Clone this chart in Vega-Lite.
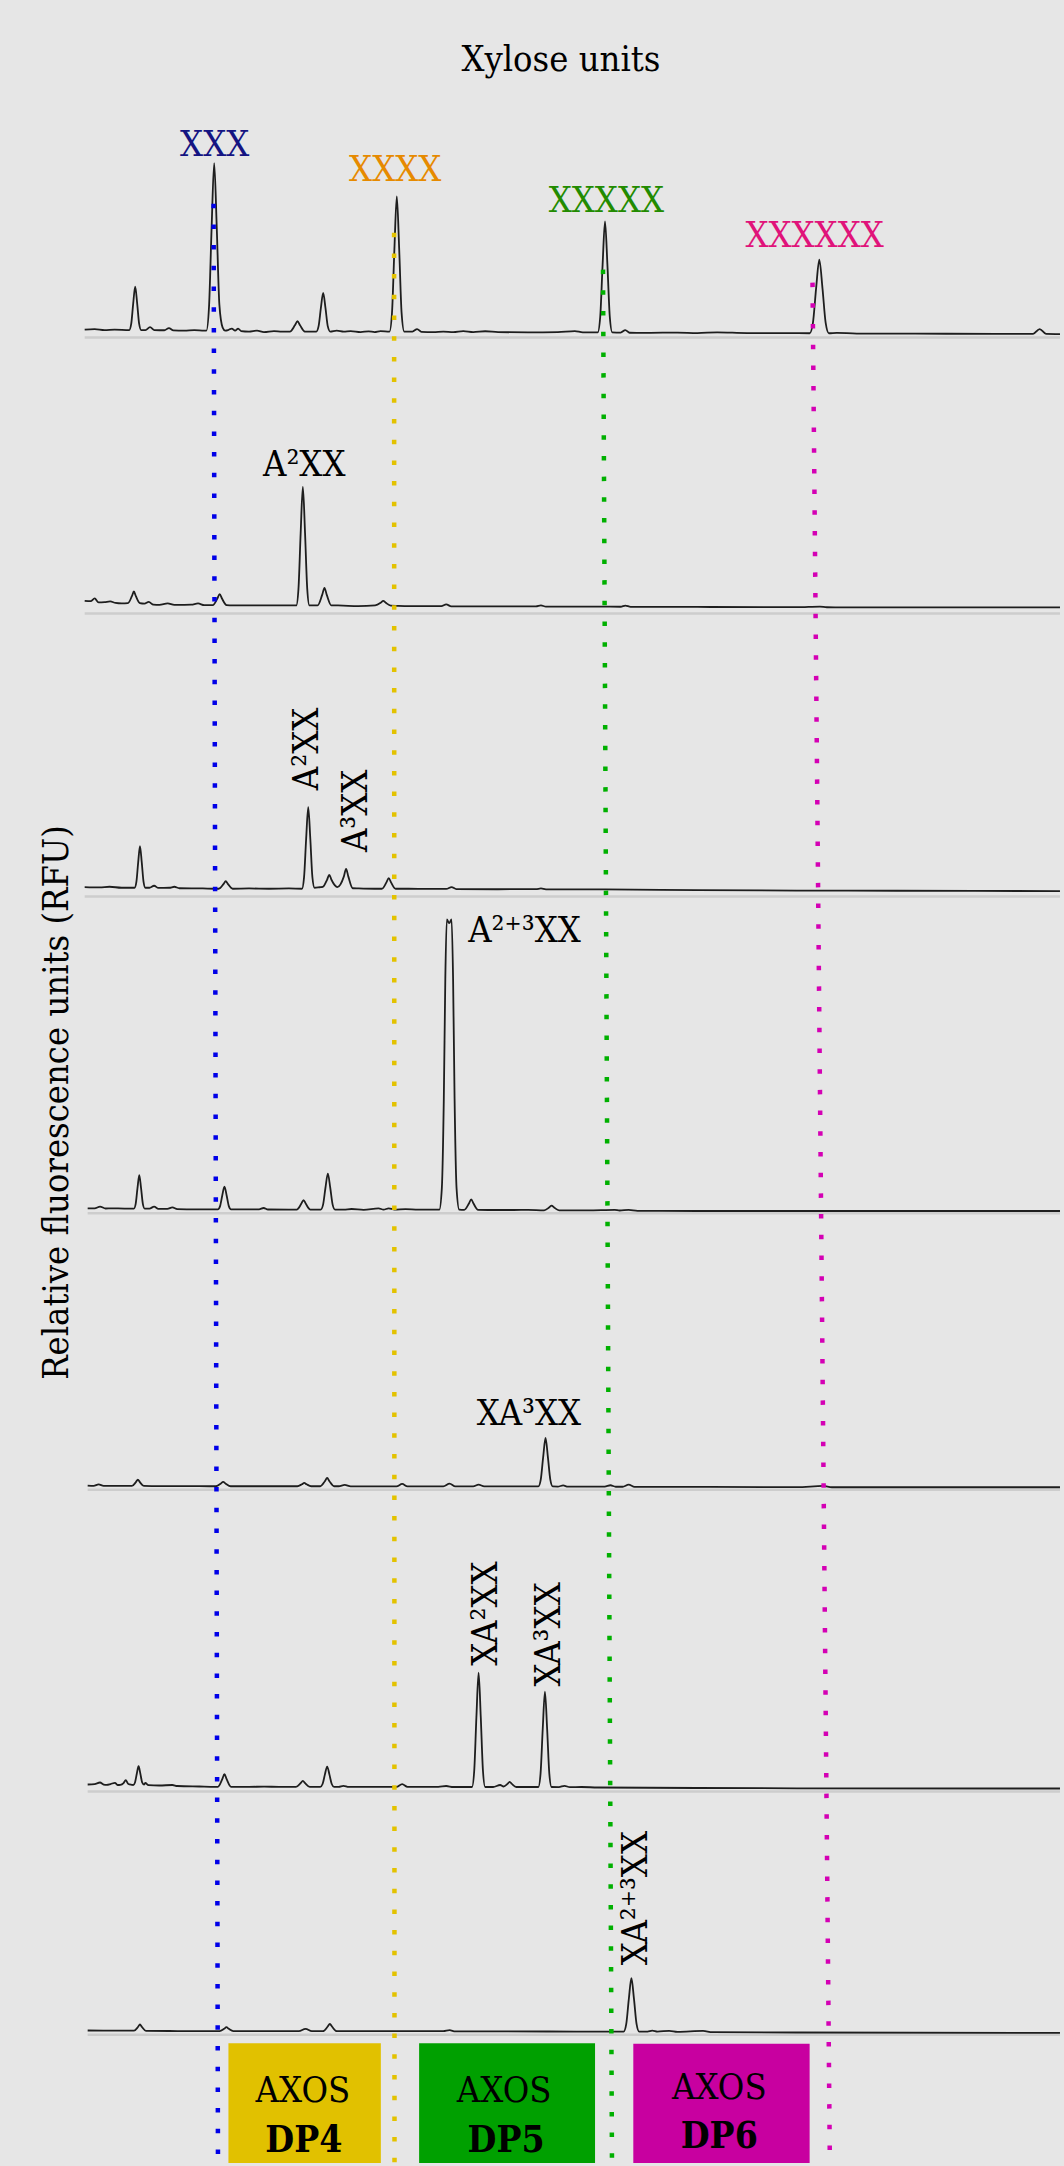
{
"$schema": "https://vega.github.io/schema/vega-lite/v6.json",
"width": 1064, "height": 2166, "padding": 0,
"autosize": {"type": "fit", "contains": "padding"},
"background": "#e6e6e6",
"config": {"view": {"stroke": null}},
"datasets": {
"baselines": [
{"trace":"P1","scan":85,"scan_end":1064,"rfu":1828},
{"trace":"P2","scan":85,"scan_end":1064,"rfu":1551.7},
{"trace":"P3","scan":85,"scan_end":1064,"rfu":1268.3},
{"trace":"P4","scan":88,"scan_end":1064,"rfu":951},
{"trace":"P5","scan":88,"scan_end":1064,"rfu":674.3},
{"trace":"P6","scan":88,"scan_end":1064,"rfu":372},
{"trace":"P7","scan":88,"scan_end":1064,"rfu":128.3}
],
"guides": [
{"dp":"DP3","scan":214.4,"scan_end":218.8,"rfu":1962,"rfu_end":0,"c":"#0000e8"},
{"dp":"DP4","scan":395.6,"scan_end":396,"rfu":1933,"rfu_end":0,"c":"#e3c200"},
{"dp":"DP5","scan":605.3,"scan_end":614.3,"rfu":1896,"rfu_end":0,"c":"#00b000"},
{"dp":"DP6","scan":815.6,"scan_end":833,"rfu":1883,"rfu_end":0,"c":"#d400b4"}
],
"boxes": [
{"dp":"DP4","scan":229.3,"scan_end":382.3,"rfu":120,"rfu_end":0,"c":"#e1c100"},
{"dp":"DP5","scan":420.7,"scan_end":597.3,"rfu":120,"rfu_end":0,"c":"#00a000"},
{"dp":"DP6","scan":635.7,"scan_end":812.7,"rfu":119.3,"rfu_end":0,"c":"#c800a0"}
],
"labels": [
{"g":"center","t":"Xylose units","scan":563,"rfu":2095.3,"c":"#000000"},
{"g":"center","t":"XXX","scan":215.5,"rfu":2009.3,"c":"#141482"},
{"g":"center","t":"XXXX","scan":396.7,"rfu":1984.3,"c":"#e68a00"},
{"g":"center","t":"XXXXX","scan":608.7,"rfu":1953.3,"c":"#228b00"},
{"g":"center","t":"XXXXXX","scan":817.7,"rfu":1918.7,"c":"#e0137a"},
{"g":"center","t":"A²XX","scan":305.4,"rfu":1689,"c":"#000000"},
{"g":"center","t":"XA³XX","scan":531,"rfu":739.3,"c":"#000000"},
{"g":"center","t":"AXOS","scan":304,"rfu":61,"c":"#000000"},
{"g":"center","t":"AXOS","scan":506,"rfu":61,"c":"#000000"},
{"g":"center","t":"AXOS","scan":722,"rfu":64.3,"c":"#000000"},
{"g":"left","t":"A²⁺³XX","scan":470,"rfu":1222.7,"c":"#000000"},
{"g":"bold","t":"DP4","scan":305,"rfu":11,"c":"#000000"},
{"g":"bold","t":"DP5","scan":508,"rfu":11,"c":"#000000"},
{"g":"bold","t":"DP6","scan":722,"rfu":15.3,"c":"#000000"},
{"g":"rot","t":"A²XX","scan":319,"rfu":1416,"c":"#000000"},
{"g":"rot","t":"A³XX","scan":368.5,"rfu":1354,"c":"#000000"},
{"g":"rot","t":"XA²XX","scan":498.7,"rfu":550.2,"c":"#000000"},
{"g":"rot","t":"XA³XX","scan":562,"rfu":529.3,"c":"#000000"},
{"g":"rot","t":"XA²⁺³XX","scan":649.4,"rfu":265.2,"c":"#000000"},
{"g":"rot","t":"Relative fluorescence units (RFU)","scan":68,"rfu":1062,"c":"#000000"}
],
"traces": [
{"trace":"P1","scan":85,"rfu":1836},{"trace":"P1","scan":95,"rfu":1836.5},{"trace":"P1","scan":105,"rfu":1835.5},{"trace":"P1","scan":115,"rfu":1836},{"trace":"P1","scan":129.7,"rfu":1835.5},{"trace":"P1","scan":131.7,"rfu":1841.6},{"trace":"P1","scan":133.7,"rfu":1862},{"trace":"P1","scan":135.7,"rfu":1879},{"trace":"P1","scan":137.7,"rfu":1862},{"trace":"P1","scan":139.7,"rfu":1841.6},{"trace":"P1","scan":141.7,"rfu":1835.5},{"trace":"P1","scan":146,"rfu":1835.5},{"trace":"P1","scan":150.6,"rfu":1838.5},{"trace":"P1","scan":155,"rfu":1835.5},{"trace":"P1","scan":165,"rfu":1835.3},{"trace":"P1","scan":169.6,"rfu":1837.5},{"trace":"P1","scan":174,"rfu":1835.2},{"trace":"P1","scan":185,"rfu":1835},{"trace":"P1","scan":195,"rfu":1835.4},{"trace":"P1","scan":205,"rfu":1835},{"trace":"P1","scan":207.2,"rfu":1835},{"trace":"P1","scan":209.8,"rfu":1858.5},{"trace":"P1","scan":212.4,"rfu":1937.3},{"trace":"P1","scan":215,"rfu":2002.7},{"trace":"P1","scan":217.6,"rfu":1937.3},{"trace":"P1","scan":220.2,"rfu":1861},{"trace":"P1","scan":223.5,"rfu":1838},{"trace":"P1","scan":226,"rfu":1835},{"trace":"P1","scan":229,"rfu":1835.5},{"trace":"P1","scan":232.7,"rfu":1837},{"trace":"P1","scan":236,"rfu":1835},{"trace":"P1","scan":239,"rfu":1837},{"trace":"P1","scan":242,"rfu":1834.5},{"trace":"P1","scan":250,"rfu":1834},{"trace":"P1","scan":258,"rfu":1835},{"trace":"P1","scan":265,"rfu":1833.5},{"trace":"P1","scan":275,"rfu":1834.5},{"trace":"P1","scan":283,"rfu":1834},{"trace":"P1","scan":291,"rfu":1834},{"trace":"P1","scan":296,"rfu":1840.2},{"trace":"P1","scan":298.6,"rfu":1844.3},{"trace":"P1","scan":301.2,"rfu":1840.2},{"trace":"P1","scan":306,"rfu":1834},{"trace":"P1","scan":317.5,"rfu":1834},{"trace":"P1","scan":319.8,"rfu":1839.4},{"trace":"P1","scan":322.1,"rfu":1857.6},{"trace":"P1","scan":324.4,"rfu":1872.7},{"trace":"P1","scan":326.7,"rfu":1857.6},{"trace":"P1","scan":329,"rfu":1839.4},{"trace":"P1","scan":331.5,"rfu":1834},{"trace":"P1","scan":338,"rfu":1835},{"trace":"P1","scan":345,"rfu":1834},{"trace":"P1","scan":352,"rfu":1834.5},{"trace":"P1","scan":362,"rfu":1833.5},{"trace":"P1","scan":370,"rfu":1834.2},{"trace":"P1","scan":376,"rfu":1833.5},{"trace":"P1","scan":382,"rfu":1834.5},{"trace":"P1","scan":391,"rfu":1834},{"trace":"P1","scan":393.5,"rfu":1853},{"trace":"P1","scan":395.9,"rfu":1916.5},{"trace":"P1","scan":398.3,"rfu":1969.3},{"trace":"P1","scan":400.7,"rfu":1916.5},{"trace":"P1","scan":403.1,"rfu":1853},{"trace":"P1","scan":405.8,"rfu":1834},{"trace":"P1","scan":414,"rfu":1834},{"trace":"P1","scan":418.7,"rfu":1836.5},{"trace":"P1","scan":423,"rfu":1833.7},{"trace":"P1","scan":435,"rfu":1833.5},{"trace":"P1","scan":445,"rfu":1834},{"trace":"P1","scan":455,"rfu":1833.5},{"trace":"P1","scan":465,"rfu":1834.5},{"trace":"P1","scan":475,"rfu":1833.5},{"trace":"P1","scan":487,"rfu":1834.3},{"trace":"P1","scan":500,"rfu":1833.5},{"trace":"P1","scan":530,"rfu":1833.2},{"trace":"P1","scan":560,"rfu":1833.5},{"trace":"P1","scan":577,"rfu":1834.5},{"trace":"P1","scan":585,"rfu":1833.2},{"trace":"P1","scan":600,"rfu":1833.2},{"trace":"P1","scan":602.5,"rfu":1848.8},{"trace":"P1","scan":604.9,"rfu":1901},{"trace":"P1","scan":607.3,"rfu":1944.3},{"trace":"P1","scan":609.7,"rfu":1901},{"trace":"P1","scan":612.1,"rfu":1848.8},{"trace":"P1","scan":614.6,"rfu":1833.2},{"trace":"P1","scan":623,"rfu":1833},{"trace":"P1","scan":627.7,"rfu":1835.5},{"trace":"P1","scan":632,"rfu":1832.8},{"trace":"P1","scan":650,"rfu":1832.7},{"trace":"P1","scan":680,"rfu":1833},{"trace":"P1","scan":700,"rfu":1832.5},{"trace":"P1","scan":720,"rfu":1833.2},{"trace":"P1","scan":750,"rfu":1832.5},{"trace":"P1","scan":790,"rfu":1832.5},{"trace":"P1","scan":812.8,"rfu":1832.3},{"trace":"P1","scan":816,"rfu":1842.6},{"trace":"P1","scan":819.2,"rfu":1877.3},{"trace":"P1","scan":822.4,"rfu":1906},{"trace":"P1","scan":825.6,"rfu":1877.3},{"trace":"P1","scan":828.8,"rfu":1842.6},{"trace":"P1","scan":832,"rfu":1832.3},{"trace":"P1","scan":840,"rfu":1832.7},{"trace":"P1","scan":860,"rfu":1832},{"trace":"P1","scan":900,"rfu":1832},{"trace":"P1","scan":950,"rfu":1831.8},{"trace":"P1","scan":1000,"rfu":1831.7},{"trace":"P1","scan":1037,"rfu":1831.7},{"trace":"P1","scan":1043.6,"rfu":1836.5},{"trace":"P1","scan":1050,"rfu":1831.7},{"trace":"P1","scan":1064,"rfu":1831.5},

{"trace":"P2","scan":85,"rfu":1564.3},{"trace":"P2","scan":91,"rfu":1564},{"trace":"P2","scan":95,"rfu":1566.7},{"trace":"P2","scan":99,"rfu":1562.7},{"trace":"P2","scan":105,"rfu":1563},{"trace":"P2","scan":110.6,"rfu":1563.7},{"trace":"P2","scan":116,"rfu":1562.2},{"trace":"P2","scan":122,"rfu":1561.7},{"trace":"P2","scan":128.4,"rfu":1562},{"trace":"P2","scan":132.4,"rfu":1569},{"trace":"P2","scan":134.4,"rfu":1573.7},{"trace":"P2","scan":136.4,"rfu":1569},{"trace":"P2","scan":140.4,"rfu":1562},{"trace":"P2","scan":145,"rfu":1561.5},{"trace":"P2","scan":149.3,"rfu":1563.2},{"trace":"P2","scan":154,"rfu":1560.5},{"trace":"P2","scan":160,"rfu":1560.3},{"trace":"P2","scan":168.3,"rfu":1561.7},{"trace":"P2","scan":175,"rfu":1560.2},{"trace":"P2","scan":183,"rfu":1560.3},{"trace":"P2","scan":192,"rfu":1560.5},{"trace":"P2","scan":198.8,"rfu":1561.7},{"trace":"P2","scan":205,"rfu":1560},{"trace":"P2","scan":213.6,"rfu":1560},{"trace":"P2","scan":218.2,"rfu":1566.6},{"trace":"P2","scan":220.5,"rfu":1571},{"trace":"P2","scan":222.8,"rfu":1566.6},{"trace":"P2","scan":227.4,"rfu":1560},{"trace":"P2","scan":234,"rfu":1559.7},{"trace":"P2","scan":250,"rfu":1559.8},{"trace":"P2","scan":271,"rfu":1559.7},{"trace":"P2","scan":290,"rfu":1559.7},{"trace":"P2","scan":297.4,"rfu":1559.7},{"trace":"P2","scan":299.6,"rfu":1576.3},{"trace":"P2","scan":301.8,"rfu":1632.1},{"trace":"P2","scan":304,"rfu":1678.3},{"trace":"P2","scan":306.2,"rfu":1632.1},{"trace":"P2","scan":308.4,"rfu":1576.3},{"trace":"P2","scan":310.6,"rfu":1559.7},{"trace":"P2","scan":318.8,"rfu":1559.7},{"trace":"P2","scan":323.4,"rfu":1570.3},{"trace":"P2","scan":325.7,"rfu":1577.3},{"trace":"P2","scan":328,"rfu":1570.3},{"trace":"P2","scan":332.6,"rfu":1559.7},{"trace":"P2","scan":339.3,"rfu":1559.7},{"trace":"P2","scan":359.6,"rfu":1559},{"trace":"P2","scan":376.6,"rfu":1559.7},{"trace":"P2","scan":382.2,"rfu":1562.4},{"trace":"P2","scan":384.7,"rfu":1564.3},{"trace":"P2","scan":387.2,"rfu":1562.4},{"trace":"P2","scan":392.2,"rfu":1559.5},{"trace":"P2","scan":400,"rfu":1559.3},{"trace":"P2","scan":420,"rfu":1559},{"trace":"P2","scan":443,"rfu":1559},{"trace":"P2","scan":447.9,"rfu":1560.7},{"trace":"P2","scan":453,"rfu":1558.8},{"trace":"P2","scan":500,"rfu":1558.7},{"trace":"P2","scan":538,"rfu":1558.7},{"trace":"P2","scan":543,"rfu":1559.7},{"trace":"P2","scan":548,"rfu":1558.6},{"trace":"P2","scan":600,"rfu":1558.5},{"trace":"P2","scan":623,"rfu":1558.4},{"trace":"P2","scan":627.7,"rfu":1559.6},{"trace":"P2","scan":633,"rfu":1558.3},{"trace":"P2","scan":700,"rfu":1558.2},{"trace":"P2","scan":800,"rfu":1558},{"trace":"P2","scan":823,"rfu":1558.6},{"trace":"P2","scan":830,"rfu":1557.9},{"trace":"P2","scan":900,"rfu":1557.8},{"trace":"P2","scan":1000,"rfu":1557.7},{"trace":"P2","scan":1064,"rfu":1557.7},

{"trace":"P3","scan":85,"rfu":1277.7},{"trace":"P3","scan":100,"rfu":1277.3},{"trace":"P3","scan":110,"rfu":1278},{"trace":"P3","scan":122,"rfu":1277},{"trace":"P3","scan":135.1,"rfu":1277},{"trace":"P3","scan":136.9,"rfu":1282.8},{"trace":"P3","scan":138.7,"rfu":1302.4},{"trace":"P3","scan":140.5,"rfu":1318.7},{"trace":"P3","scan":142.3,"rfu":1302.4},{"trace":"P3","scan":144.1,"rfu":1282.8},{"trace":"P3","scan":145.9,"rfu":1277},{"trace":"P3","scan":150,"rfu":1277},{"trace":"P3","scan":154.7,"rfu":1279},{"trace":"P3","scan":159,"rfu":1276.8},{"trace":"P3","scan":170,"rfu":1277},{"trace":"P3","scan":175,"rfu":1278},{"trace":"P3","scan":180,"rfu":1276.5},{"trace":"P3","scan":203.6,"rfu":1276.3},{"trace":"P3","scan":215,"rfu":1276},{"trace":"P3","scan":219.7,"rfu":1276},{"trace":"P3","scan":224.3,"rfu":1280.6},{"trace":"P3","scan":226.6,"rfu":1283.7},{"trace":"P3","scan":228.9,"rfu":1280.6},{"trace":"P3","scan":233.5,"rfu":1276},{"trace":"P3","scan":250,"rfu":1276.3},{"trace":"P3","scan":270,"rfu":1276},{"trace":"P3","scan":290,"rfu":1276.3},{"trace":"P3","scan":303.1,"rfu":1276},{"trace":"P3","scan":305.2,"rfu":1287.4},{"trace":"P3","scan":307.3,"rfu":1325.8},{"trace":"P3","scan":309.4,"rfu":1357.7},{"trace":"P3","scan":311.5,"rfu":1325.8},{"trace":"P3","scan":313.6,"rfu":1287.4},{"trace":"P3","scan":315.7,"rfu":1277},{"trace":"P3","scan":321,"rfu":1277.5},{"trace":"P3","scan":324,"rfu":1277.8},{"trace":"P3","scan":328.3,"rfu":1285},{"trace":"P3","scan":330.5,"rfu":1290},{"trace":"P3","scan":332.7,"rfu":1285},{"trace":"P3","scan":338.6,"rfu":1277.7},{"trace":"P3","scan":345.2,"rfu":1288.4},{"trace":"P3","scan":347.4,"rfu":1296},{"trace":"P3","scan":349.6,"rfu":1288.4},{"trace":"P3","scan":354,"rfu":1276.5},{"trace":"P3","scan":360,"rfu":1276.3},{"trace":"P3","scan":376,"rfu":1276},{"trace":"P3","scan":383.3,"rfu":1276},{"trace":"P3","scan":387.9,"rfu":1282.4},{"trace":"P3","scan":390.2,"rfu":1286.7},{"trace":"P3","scan":392.5,"rfu":1282.4},{"trace":"P3","scan":397.1,"rfu":1276},{"trace":"P3","scan":410,"rfu":1276},{"trace":"P3","scan":430,"rfu":1275.8},{"trace":"P3","scan":448,"rfu":1275.8},{"trace":"P3","scan":453.3,"rfu":1277.7},{"trace":"P3","scan":458,"rfu":1275.7},{"trace":"P3","scan":500,"rfu":1275.5},{"trace":"P3","scan":538,"rfu":1275.7},{"trace":"P3","scan":543,"rfu":1276.3},{"trace":"P3","scan":548,"rfu":1275.4},{"trace":"P3","scan":607,"rfu":1275.3},{"trace":"P3","scan":700,"rfu":1274.7},{"trace":"P3","scan":800,"rfu":1274.2},{"trace":"P3","scan":900,"rfu":1274},{"trace":"P3","scan":1064,"rfu":1273.7},

{"trace":"P4","scan":88,"rfu":956},{"trace":"P4","scan":95,"rfu":956},{"trace":"P4","scan":100.4,"rfu":957.7},{"trace":"P4","scan":106,"rfu":955.8},{"trace":"P4","scan":112,"rfu":956},{"trace":"P4","scan":125,"rfu":955.7},{"trace":"P4","scan":134.4,"rfu":955.7},{"trace":"P4","scan":136.2,"rfu":960.4},{"trace":"P4","scan":138,"rfu":976.2},{"trace":"P4","scan":139.8,"rfu":989.3},{"trace":"P4","scan":141.6,"rfu":976.2},{"trace":"P4","scan":143.4,"rfu":960.4},{"trace":"P4","scan":145.2,"rfu":955.7},{"trace":"P4","scan":150,"rfu":955.7},{"trace":"P4","scan":154.7,"rfu":957.7},{"trace":"P4","scan":159,"rfu":955.5},{"trace":"P4","scan":168,"rfu":955.5},{"trace":"P4","scan":173,"rfu":957},{"trace":"P4","scan":178,"rfu":955.2},{"trace":"P4","scan":196.8,"rfu":955},{"trace":"P4","scan":212,"rfu":955},{"trace":"P4","scan":218.7,"rfu":955},{"trace":"P4","scan":220.9,"rfu":958.2},{"trace":"P4","scan":223.1,"rfu":968.8},{"trace":"P4","scan":225.3,"rfu":977.7},{"trace":"P4","scan":227.5,"rfu":968.8},{"trace":"P4","scan":229.7,"rfu":958.2},{"trace":"P4","scan":231.9,"rfu":955},{"trace":"P4","scan":245,"rfu":955},{"trace":"P4","scan":260,"rfu":955},{"trace":"P4","scan":264.6,"rfu":956.3},{"trace":"P4","scan":269,"rfu":954.8},{"trace":"P4","scan":290,"rfu":954.7},{"trace":"P4","scan":297.8,"rfu":954.7},{"trace":"P4","scan":302.4,"rfu":960.5},{"trace":"P4","scan":304.7,"rfu":964.3},{"trace":"P4","scan":307,"rfu":960.5},{"trace":"P4","scan":311.6,"rfu":954.7},{"trace":"P4","scan":321.9,"rfu":954.7},{"trace":"P4","scan":324.3,"rfu":959.7},{"trace":"P4","scan":326.7,"rfu":976.6},{"trace":"P4","scan":329.1,"rfu":990.7},{"trace":"P4","scan":331.5,"rfu":976.6},{"trace":"P4","scan":333.9,"rfu":959.7},{"trace":"P4","scan":336.3,"rfu":954.7},{"trace":"P4","scan":345,"rfu":954.7},{"trace":"P4","scan":352.9,"rfu":955.3},{"trace":"P4","scan":365,"rfu":954.5},{"trace":"P4","scan":380,"rfu":956},{"trace":"P4","scan":385,"rfu":954.7},{"trace":"P4","scan":390.2,"rfu":956},{"trace":"P4","scan":396,"rfu":954.7},{"trace":"P4","scan":407,"rfu":955.2},{"trace":"P4","scan":420,"rfu":954.7},{"trace":"P4","scan":435,"rfu":954.7},{"trace":"P4","scan":441,"rfu":954.7},{"trace":"P4","scan":443.5,"rfu":976},{"trace":"P4","scan":445.5,"rfu":1066},{"trace":"P4","scan":447,"rfu":1186},{"trace":"P4","scan":448.5,"rfu":1245.3},{"trace":"P4","scan":450.9,"rfu":1241.5},{"trace":"P4","scan":453.3,"rfu":1245.3},{"trace":"P4","scan":454.8,"rfu":1186},{"trace":"P4","scan":456.3,"rfu":1066},{"trace":"P4","scan":458.3,"rfu":976},{"trace":"P4","scan":461,"rfu":954.7},{"trace":"P4","scan":466,"rfu":954.5},{"trace":"P4","scan":470.7,"rfu":960.8},{"trace":"P4","scan":473,"rfu":965},{"trace":"P4","scan":475.3,"rfu":960.8},{"trace":"P4","scan":479.9,"rfu":954.5},{"trace":"P4","scan":500,"rfu":954.3},{"trace":"P4","scan":515.7,"rfu":954.3},{"trace":"P4","scan":530,"rfu":954.5},{"trace":"P4","scan":546.2,"rfu":954},{"trace":"P4","scan":551.2,"rfu":956.8},{"trace":"P4","scan":553.7,"rfu":958.7},{"trace":"P4","scan":556.2,"rfu":956.8},{"trace":"P4","scan":561.2,"rfu":954},{"trace":"P4","scan":590,"rfu":954},{"trace":"P4","scan":617,"rfu":954.5},{"trace":"P4","scan":622,"rfu":953.8},{"trace":"P4","scan":631,"rfu":954.4},{"trace":"P4","scan":640,"rfu":953.5},{"trace":"P4","scan":700,"rfu":953.3},{"trace":"P4","scan":800,"rfu":953.3},{"trace":"P4","scan":1064,"rfu":953.3},

{"trace":"P5","scan":88,"rfu":678.3},{"trace":"P5","scan":94,"rfu":678},{"trace":"P5","scan":99,"rfu":679.5},{"trace":"P5","scan":104,"rfu":678},{"trace":"P5","scan":120,"rfu":678},{"trace":"P5","scan":132.4,"rfu":678},{"trace":"P5","scan":136.4,"rfu":681.8},{"trace":"P5","scan":138.4,"rfu":684.3},{"trace":"P5","scan":140.4,"rfu":681.8},{"trace":"P5","scan":144.4,"rfu":678},{"trace":"P5","scan":160,"rfu":677.8},{"trace":"P5","scan":190,"rfu":677.8},{"trace":"P5","scan":210,"rfu":677.7},{"trace":"P5","scan":216.5,"rfu":677.7},{"trace":"P5","scan":221.5,"rfu":680.3},{"trace":"P5","scan":224,"rfu":682},{"trace":"P5","scan":226.5,"rfu":680.3},{"trace":"P5","scan":231.5,"rfu":677.7},{"trace":"P5","scan":260,"rfu":677.7},{"trace":"P5","scan":295,"rfu":677.7},{"trace":"P5","scan":298.5,"rfu":677.7},{"trace":"P5","scan":303.1,"rfu":679.7},{"trace":"P5","scan":305.4,"rfu":681},{"trace":"P5","scan":307.7,"rfu":679.7},{"trace":"P5","scan":312.3,"rfu":677.7},{"trace":"P5","scan":321.5,"rfu":677.7},{"trace":"P5","scan":326.1,"rfu":682.7},{"trace":"P5","scan":328.4,"rfu":686},{"trace":"P5","scan":330.7,"rfu":682.7},{"trace":"P5","scan":335.3,"rfu":677.7},{"trace":"P5","scan":340,"rfu":677.7},{"trace":"P5","scan":346,"rfu":679},{"trace":"P5","scan":352,"rfu":677.6},{"trace":"P5","scan":380,"rfu":677.6},{"trace":"P5","scan":398,"rfu":677.6},{"trace":"P5","scan":403.7,"rfu":680},{"trace":"P5","scan":409,"rfu":677.6},{"trace":"P5","scan":445,"rfu":677.6},{"trace":"P5","scan":451.3,"rfu":680.3},{"trace":"P5","scan":457,"rfu":677.6},{"trace":"P5","scan":475,"rfu":677.5},{"trace":"P5","scan":480.4,"rfu":679.3},{"trace":"P5","scan":486,"rfu":677.5},{"trace":"P5","scan":530,"rfu":677.5},{"trace":"P5","scan":540.4,"rfu":677.5},{"trace":"P5","scan":542.8,"rfu":684.3},{"trace":"P5","scan":545.2,"rfu":706.6},{"trace":"P5","scan":547.6,"rfu":726},{"trace":"P5","scan":550,"rfu":706.6},{"trace":"P5","scan":552.4,"rfu":684.3},{"trace":"P5","scan":554.8,"rfu":677.5},{"trace":"P5","scan":560,"rfu":677.4},{"trace":"P5","scan":565.3,"rfu":678.5},{"trace":"P5","scan":570,"rfu":677.3},{"trace":"P5","scan":607,"rfu":677.3},{"trace":"P5","scan":612.7,"rfu":678.7},{"trace":"P5","scan":618,"rfu":677.2},{"trace":"P5","scan":625,"rfu":677.2},{"trace":"P5","scan":631,"rfu":679.3},{"trace":"P5","scan":637,"rfu":677.1},{"trace":"P5","scan":700,"rfu":677},{"trace":"P5","scan":800,"rfu":676.8},{"trace":"P5","scan":826.5,"rfu":678},{"trace":"P5","scan":835,"rfu":676.7},{"trace":"P5","scan":1064,"rfu":676.7},

{"trace":"P6","scan":88,"rfu":379},{"trace":"P6","scan":95,"rfu":379.5},{"trace":"P6","scan":100.4,"rfu":381},{"trace":"P6","scan":104,"rfu":379},{"trace":"P6","scan":107.2,"rfu":378.7},{"trace":"P6","scan":111,"rfu":379.5},{"trace":"P6","scan":115.4,"rfu":380.7},{"trace":"P6","scan":118,"rfu":378.5},{"trace":"P6","scan":120.8,"rfu":378.7},{"trace":"P6","scan":124,"rfu":380.5},{"trace":"P6","scan":126.2,"rfu":383.3},{"trace":"P6","scan":128.8,"rfu":379.5},{"trace":"P6","scan":132.3,"rfu":378.7},{"trace":"P6","scan":133.7,"rfu":378.5},{"trace":"P6","scan":135.5,"rfu":381.1},{"trace":"P6","scan":137.3,"rfu":389.8},{"trace":"P6","scan":139.1,"rfu":397.3},{"trace":"P6","scan":140.9,"rfu":389.8},{"trace":"P6","scan":142.7,"rfu":381.1},{"trace":"P6","scan":144.5,"rfu":379},{"trace":"P6","scan":145.9,"rfu":380.5},{"trace":"P6","scan":149,"rfu":378.4},{"trace":"P6","scan":160,"rfu":378},{"trace":"P6","scan":173,"rfu":378.5},{"trace":"P6","scan":178,"rfu":377.5},{"trace":"P6","scan":200,"rfu":377},{"trace":"P6","scan":216,"rfu":376.7},{"trace":"P6","scan":218.7,"rfu":376.7},{"trace":"P6","scan":223.1,"rfu":384.3},{"trace":"P6","scan":225.3,"rfu":389.3},{"trace":"P6","scan":227.5,"rfu":384.3},{"trace":"P6","scan":231.9,"rfu":376.7},{"trace":"P6","scan":250,"rfu":376.7},{"trace":"P6","scan":265,"rfu":376.8},{"trace":"P6","scan":280,"rfu":376.7},{"trace":"P6","scan":297.1,"rfu":376.7},{"trace":"P6","scan":301.7,"rfu":380.3},{"trace":"P6","scan":304,"rfu":382.7},{"trace":"P6","scan":306.3,"rfu":380.3},{"trace":"P6","scan":310.9,"rfu":376.7},{"trace":"P6","scan":321.5,"rfu":376.7},{"trace":"P6","scan":323.8,"rfu":379.5},{"trace":"P6","scan":326.1,"rfu":388.9},{"trace":"P6","scan":328.4,"rfu":397},{"trace":"P6","scan":330.7,"rfu":388.9},{"trace":"P6","scan":333,"rfu":379.5},{"trace":"P6","scan":335.3,"rfu":376.7},{"trace":"P6","scan":340,"rfu":376.7},{"trace":"P6","scan":344.7,"rfu":377.7},{"trace":"P6","scan":350,"rfu":376.6},{"trace":"P6","scan":380,"rfu":376.6},{"trace":"P6","scan":398,"rfu":376.6},{"trace":"P6","scan":403.7,"rfu":379.3},{"trace":"P6","scan":409,"rfu":376.6},{"trace":"P6","scan":440,"rfu":376.6},{"trace":"P6","scan":447.9,"rfu":377.5},{"trace":"P6","scan":455,"rfu":376.5},{"trace":"P6","scan":470,"rfu":376.5},{"trace":"P6","scan":473.8,"rfu":376.5},{"trace":"P6","scan":476,"rfu":392.5},{"trace":"P6","scan":478.2,"rfu":446.3},{"trace":"P6","scan":480.4,"rfu":491},{"trace":"P6","scan":482.6,"rfu":446.3},{"trace":"P6","scan":484.8,"rfu":392.5},{"trace":"P6","scan":487,"rfu":376.5},{"trace":"P6","scan":495,"rfu":376.5},{"trace":"P6","scan":502.1,"rfu":378.5},{"trace":"P6","scan":505.5,"rfu":377},{"trace":"P6","scan":509.4,"rfu":379.6},{"trace":"P6","scan":511.6,"rfu":381.7},{"trace":"P6","scan":513.8,"rfu":379.6},{"trace":"P6","scan":518.2,"rfu":376.5},{"trace":"P6","scan":535,"rfu":376.5},{"trace":"P6","scan":540.4,"rfu":376.5},{"trace":"P6","scan":542.6,"rfu":389.9},{"trace":"P6","scan":544.8,"rfu":434.8},{"trace":"P6","scan":547,"rfu":472},{"trace":"P6","scan":549.2,"rfu":434.8},{"trace":"P6","scan":551.4,"rfu":389.9},{"trace":"P6","scan":553.6,"rfu":376.5},{"trace":"P6","scan":561,"rfu":376.4},{"trace":"P6","scan":566.6,"rfu":377.7},{"trace":"P6","scan":572,"rfu":376.3},{"trace":"P6","scan":583.6,"rfu":376.5},{"trace":"P6","scan":600,"rfu":376},{"trace":"P6","scan":700,"rfu":375.5},{"trace":"P6","scan":800,"rfu":375.2},{"trace":"P6","scan":1064,"rfu":375},

{"trace":"P7","scan":88,"rfu":132.7},{"trace":"P7","scan":110,"rfu":132.5},{"trace":"P7","scan":125,"rfu":132.5},{"trace":"P7","scan":134.5,"rfu":132.5},{"trace":"P7","scan":138.5,"rfu":136.2},{"trace":"P7","scan":140.5,"rfu":138.7},{"trace":"P7","scan":142.5,"rfu":136.2},{"trace":"P7","scan":146.5,"rfu":132.3},{"trace":"P7","scan":170,"rfu":132.2},{"trace":"P7","scan":205,"rfu":132},{"trace":"P7","scan":220.4,"rfu":132},{"trace":"P7","scan":225,"rfu":134.4},{"trace":"P7","scan":227.3,"rfu":136},{"trace":"P7","scan":229.6,"rfu":134.4},{"trace":"P7","scan":234.2,"rfu":132},{"trace":"P7","scan":260,"rfu":132},{"trace":"P7","scan":300,"rfu":132},{"trace":"P7","scan":306.7,"rfu":134.3},{"trace":"P7","scan":313,"rfu":132},{"trace":"P7","scan":324.2,"rfu":132},{"trace":"P7","scan":328.8,"rfu":136.4},{"trace":"P7","scan":331.1,"rfu":139.3},{"trace":"P7","scan":333.4,"rfu":136.4},{"trace":"P7","scan":338,"rfu":132},{"trace":"P7","scan":380,"rfu":132},{"trace":"P7","scan":445,"rfu":132},{"trace":"P7","scan":451.3,"rfu":133},{"trace":"P7","scan":457,"rfu":131.8},{"trace":"P7","scan":550,"rfu":131.7},{"trace":"P7","scan":620,"rfu":131.5},{"trace":"P7","scan":626,"rfu":131.5},{"trace":"P7","scan":628.6,"rfu":139},{"trace":"P7","scan":631.2,"rfu":164.1},{"trace":"P7","scan":633.8,"rfu":185},{"trace":"P7","scan":636.4,"rfu":164.1},{"trace":"P7","scan":639,"rfu":139},{"trace":"P7","scan":641.6,"rfu":131.5},{"trace":"P7","scan":650,"rfu":131.6},{"trace":"P7","scan":654.8,"rfu":132.5},{"trace":"P7","scan":660,"rfu":131.5},{"trace":"P7","scan":671.8,"rfu":132.4},{"trace":"P7","scan":680,"rfu":131.4},{"trace":"P7","scan":705.7,"rfu":132.3},{"trace":"P7","scan":715,"rfu":131},{"trace":"P7","scan":800,"rfu":130.7},{"trace":"P7","scan":1064,"rfu":130.3}
]
},
"layer": [
{"data": {"name": "baselines"}, "mark": {"type": "rule", "color": "#cdcdcd", "strokeWidth": 2.5},
 "encoding": {
  "x": {"field": "scan", "type": "quantitative", "scale": {"domain": [0, 1060], "nice": false, "zero": false}, "axis": null},
  "x2": {"field": "scan_end"},
  "y": {"field": "rfu", "type": "quantitative", "scale": {"domain": [4, 2166], "nice": false, "zero": false}, "axis": null}}},
{"data": {"name": "traces"}, "mark": {"type": "line", "color": "#1e1e1e", "strokeWidth": 1.8, "interpolate": "monotone"},
 "encoding": {
  "x": {"field": "scan", "type": "quantitative"},
  "y": {"field": "rfu", "type": "quantitative"},
  "detail": {"field": "trace"}}},
{"data": {"name": "boxes"}, "mark": {"type": "rect"},
 "encoding": {
  "x": {"field": "scan", "type": "quantitative"}, "x2": {"field": "scan_end"},
  "y": {"field": "rfu", "type": "quantitative"}, "y2": {"field": "rfu_end"},
  "color": {"field": "c", "type": "nominal", "scale": null}}},
{"data": {"name": "guides"}, "mark": {"type": "rule", "strokeWidth": 4.5, "strokeDash": [4.5, 16.2], "strokeCap": "butt"},
 "encoding": {
  "x": {"field": "scan", "type": "quantitative"}, "x2": {"field": "scan_end"},
  "y": {"field": "rfu", "type": "quantitative"}, "y2": {"field": "rfu_end"},
  "color": {"field": "c", "type": "nominal", "scale": null}}},
{"data": {"name": "labels"}, "transform": [{"filter": "datum.g == 'center'"}],
 "mark": {"type": "text", "font": "DejaVu Serif Condensed, DejaVu Serif", "fontSize": 36, "align": "center", "baseline": "alphabetic"},
 "encoding": {
  "x": {"field": "scan", "type": "quantitative"}, "y": {"field": "rfu", "type": "quantitative"},
  "text": {"field": "t"}, "color": {"field": "c", "type": "nominal", "scale": null}}},
{"data": {"name": "labels"}, "transform": [{"filter": "datum.g == 'left'"}],
 "mark": {"type": "text", "font": "DejaVu Serif Condensed, DejaVu Serif", "fontSize": 36, "align": "left", "baseline": "alphabetic"},
 "encoding": {
  "x": {"field": "scan", "type": "quantitative"}, "y": {"field": "rfu", "type": "quantitative"},
  "text": {"field": "t"}, "color": {"field": "c", "type": "nominal", "scale": null}}},
{"data": {"name": "labels"}, "transform": [{"filter": "datum.g == 'bold'"}],
 "mark": {"type": "text", "font": "DejaVu Serif Condensed, DejaVu Serif", "fontSize": 37, "fontWeight": "bold", "align": "center", "baseline": "alphabetic"},
 "encoding": {
  "x": {"field": "scan", "type": "quantitative"}, "y": {"field": "rfu", "type": "quantitative"},
  "text": {"field": "t"}, "color": {"field": "c", "type": "nominal", "scale": null}}},
{"data": {"name": "labels"}, "transform": [{"filter": "datum.g == 'rot'"}],
 "mark": {"type": "text", "font": "DejaVu Serif Condensed, DejaVu Serif", "fontSize": 36, "angle": 270, "align": "center", "baseline": "alphabetic"},
 "encoding": {
  "x": {"field": "scan", "type": "quantitative"}, "y": {"field": "rfu", "type": "quantitative"},
  "text": {"field": "t"}, "color": {"field": "c", "type": "nominal", "scale": null}}}
]
}
